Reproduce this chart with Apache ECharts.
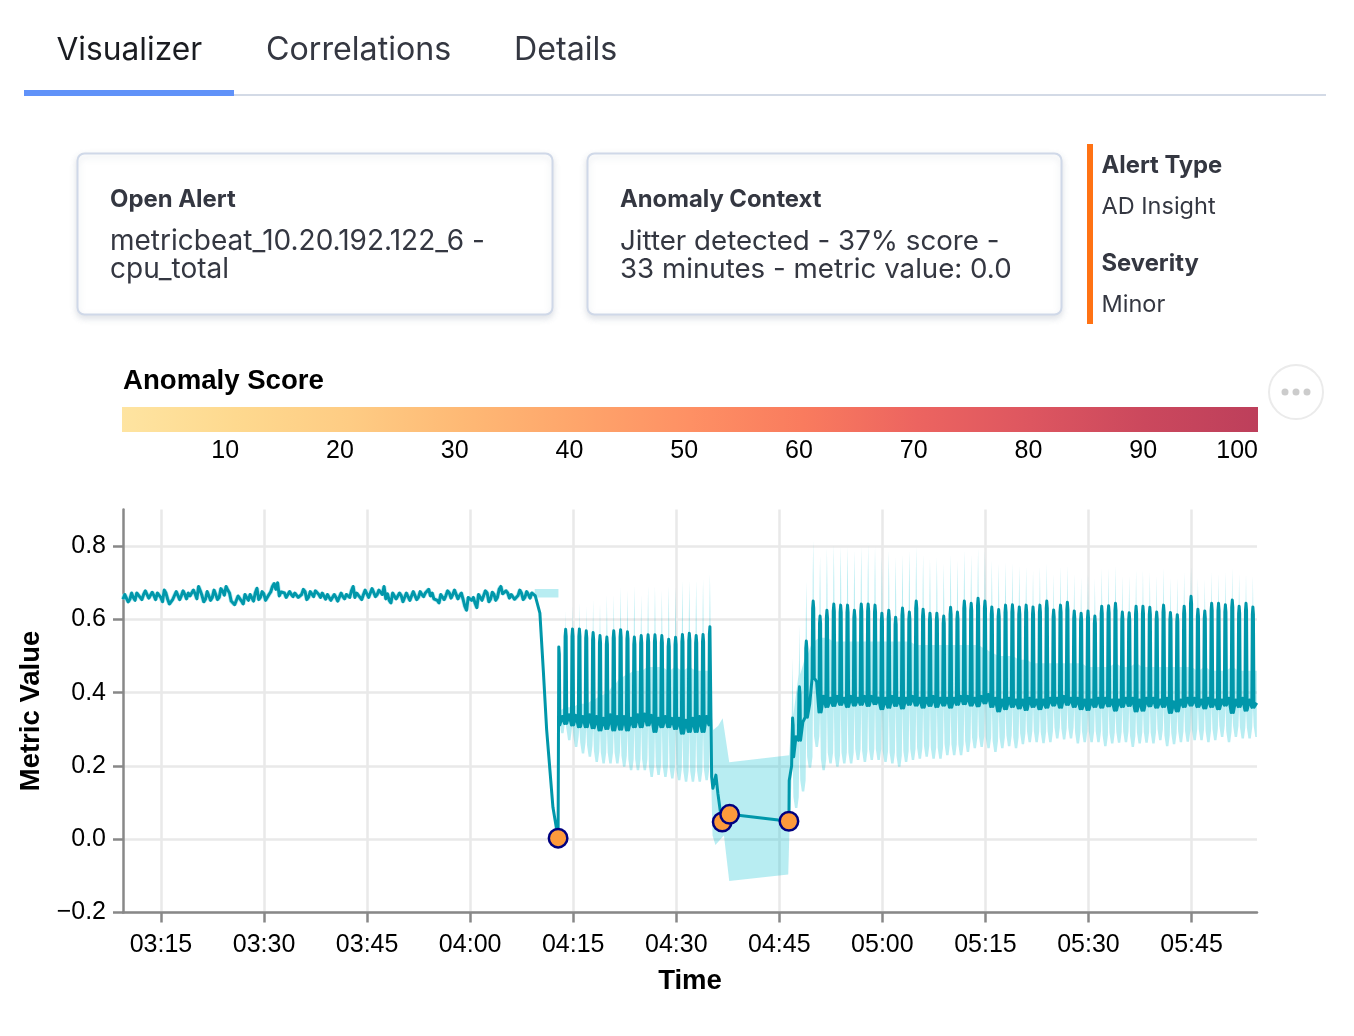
<!DOCTYPE html>
<html><head><meta charset="utf-8">
<style>html,body{margin:0;padding:0;background:#fff}#c{width:1354px;height:1036px}</style>
<script src="https://cdn.jsdelivr.net/npm/echarts@6/dist/echarts.min.js"></script>
</head><body><div id="c"></div>
<script>
// ---- Data (times are minutes since midnight) ----
const xTicks = [195,210,225,240,255,270,285,300,315,330,345];
const yTicks = [-0.2,0,0.2,0.4,0.6,0.8];
const scoreTicks = [10,20,30,40,50,60,70,80,90,100];
const scoreColors = ['#fee4a1','#fed98f','#fecc84','#feb975','#fea56b','#fe9064','#f97b5e','#ec6460','#dd5660','#cb485d','#bd3f5b'];

const flatStart = 189.47;
const flatValues = [
.655,.665,.655,.66,.672,.66,.668,.675,.655,.665,
.672,.66,.68,.655,.645,.66,.672,.665,.668,.672,
.665,.67,.69,.665,.655,.672,.66,.668,.66,.678,
.69,.672,.655,.645,.66,.642,.66,.668,.65,.685,
.66,.67,.648,.675,.698,.70,.675,.672,.665,.668,
.672,.66,.668,.676,.66,.672,.678,.668,.672,.655,
.665,.648,.66,.655,.662,.668,.66,.69,.672,.66,
.668,.685,.672,.68,.668,.675,.69,.67,.645,.668,
.66,.665,.65,.668,.655,.672,.66,.668,.672,.682,
.672,.66,.645,.668,.665,.672,.668,.675,.665,.655,
.625,.665,.66,.632,.668,.665,.672,.655,.668,.66,
.69,.665,.672,.668,.655,.665,.672,.66,.668,.672,.665];
const flatBetween = [
.668,.648,.672,.652,.676,.654,.678,.658,.674,.654,
.676,.648,.672,.642,.655,.676,.654,.678,.656,.664,
.68,.656,.678,.648,.676,.652,.68,.654,.684,.666,
.68,.65,.64,.664,.65,.668,.652,.664,.672,.654,
.676,.652,.668,.69,.682,.664,.68,.66,.676,.662,
.674,.656,.682,.654,.676,.662,.68,.66,.676,.668,
.652,.668,.65,.672,.656,.672,.678,.66,.676,.654,
.68,.66,.684,.662,.68,.668,.656,.652,.672,.656,
.672,.648,.672,.652,.676,.654,.676,.662,.674,.664,
.656,.652,.668,.654,.678,.658,.68,.656,.672,.636,
.66,.652,.644,.668,.652,.678,.648,.674,.652,.682,
.67,.678,.658,.672,.652,.68,.654,.676,.658,.674];
const dropTimes = [249.55,250.15,250.65,251.13,252.05,252.8];
const dropValues = [.66,.617,.46,.30,.087,.003];
const flatBandTimes = [249.4,252.85];
const flatBandTop = .683, flatBandLow = .66;

const start1 = 252.9;
const peaks1 = [.525,.573,.574,.574,.569,.564,.556,.552,.569,.572,.566,.552,.556,.558,.558,.556,.546,.551,.559,.562,.556,.559,.58];
const dips1 = [.312,.316,.312,.307,.307,.304,.298,.302,.298,.30,.298,.307,.307,.312,.294,.307,.307,.302,.289,.294,.294,.294,.312];
const mids1 = [.335,.34,.338,.335,.34,.335,.33,.34,.335,.335,.33,.34,.342,.338,.33,.335,.33,.33,.325,.33,.335,.335,.335];
const tops1 = [.50,.625,.637,.646,.637,.655,.646,.668,.668,.689,.68,.693,.668,.693,.693,.68,.693,.689,.707,.707,.707,.711,.726];
const uppers1 = [.35,.36,.36,.37,.37,.38,.39,.40,.42,.44,.45,.46,.46,.47,.47,.47,.46,.47,.46,.47,.46,.46,.46];
const lows1 = [.289,.27,.252,.234,.225,.211,.207,.207,.207,.198,.188,.188,.188,.17,.175,.17,.166,.161,.157,.157,.157,.161,.16];

const gapTimes = [275.15,275.33,275.77,276.06,276.46,276.69,277.77,286.4,286.44,286.79];
const gapValues = [.17,.139,.175,.125,.07,.047,.068,.049,.16,.2];
const gapUpperTimes = [275.05,275.38,276.11,276.75,277.71,286.44];
const gapUpperValues = [.36,.298,.31,.33,.21,.229];
const gapLowerTimes = [275.28,275.7,276.94,277.71,286.3,286.5];
const gapLowerValues = [.01,-.016,.01,-.114,-.096,.04];

const start2 = 286.93;
const peaks2 = [.331,.416,.541,.650,.609,.625,.642,.639,.639,.625,.642,.642,.639,.617,.625,.606,.631,.620,.650,.628,.617,.617,
.609,.633,.620,.650,.644,.658,.650,.634,.627,.639,.640,.634,.639,.634,.639,.650,.626,.639,.647,.623,.617,.623,.609,
.636,.637,.644,.620,.618,.636,.636,.633,.620,.639,.619,.613,.636,.663,.628,.623,.644,.644,.640,.653,.636,.644,.634];
const dips2 = [.225,.27,.333,.44,.347,.362,.365,.368,.362,.366,.368,.365,.37,.356,.36,.365,.358,.368,.366,.36,.365,.362,
.366,.36,.368,.37,.366,.364,.372,.362,.35,.356,.362,.358,.354,.362,.356,.36,.366,.36,.368,.362,.356,.354,.362,
.36,.364,.352,.362,.365,.35,.352,.364,.36,.362,.346,.35,.362,.366,.362,.358,.362,.356,.366,.346,.362,.352,.36];
const mids2 = [.28,.32,.37,.43,.39,.385,.39,.385,.39,.385,.39,.39,.385,.385,.39,.385,.385,.39,.385,.385,.39,.385,
.385,.385,.39,.39,.385,.39,.395,.385,.38,.385,.38,.38,.385,.38,.38,.385,.385,.39,.385,.385,.38,.38,.385,
.385,.38,.38,.385,.385,.38,.385,.385,.38,.385,.375,.38,.385,.385,.38,.385,.38,.38,.385,.38,.385,.38,.37];
const tops2 = [.497,.584,.705,.816,.775,.795,.805,.80,.80,.789,.80,.805,.80,.771,.789,.771,.778,.789,.80,.778,.767,.771,
.754,.778,.762,.789,.778,.795,.789,.762,.754,.757,.754,.748,.745,.735,.745,.754,.726,.745,.748,.726,.716,.726,.713,
.74,.74,.748,.72,.72,.735,.735,.73,.72,.74,.715,.715,.73,.745,.715,.71,.73,.725,.73,.74,.725,.725,.72];
const uppers2 = [.34,.45,.50,.54,.55,.55,.54,.54,.54,.54,.54,.54,.54,.54,.54,.54,.54,.54,.53,.53,.53,.53,
.53,.53,.53,.53,.53,.53,.52,.51,.50,.50,.50,.49,.49,.48,.48,.48,.48,.48,.48,.48,.48,.47,.47,
.47,.47,.48,.47,.47,.48,.47,.47,.47,.47,.47,.47,.47,.47,.46,.47,.46,.46,.46,.47,.46,.46,.46];
const lows2 = [.085,.13,.195,.252,.188,.207,.198,.207,.207,.216,.211,.216,.216,.211,.207,.198,.211,.216,.220,.225,.220,.220,
.229,.229,.229,.238,.248,.252,.248,.238,.248,.254,.248,.259,.265,.265,.262,.265,.275,.272,.275,.261,.265,.265,.265,
.254,.261,.263,.265,.252,.261,.263,.261,.270,.254,.259,.265,.266,.270,.270,.265,.270,.279,.265,.279,.275,.275,.279];
const endTime = 354.5, endValue = .372;

const anomalyTimes = [252.8,276.69,277.77,286.4];
const anomalyValues = [.003,.047,.068,.049];

const tabs = ['Visualizer','Correlations','Details'];
const cardHeads = ['Open Alert','Anomaly Context'];
const cardLines = [['metricbeat_10.20.192.122_6 -','cpu_total'],['Jitter detected - 37% score -','33 minutes - metric value: 0.0']];
const sideLabels = ['Alert Type','AD Insight','Severity','Minor'];

// ---- Assemble the paths from the arrays above ----
const P = (m, v) => [m, v];
const flatLine = [];
flatValues.forEach((v, i) => {
  flatLine.push(P(flatStart + i * 0.5, v));
  if (i < flatBetween.length) flatLine.push(P(flatStart + i * 0.5 + 0.25, flatBetween[i]));
});
const line = flatLine.slice();
dropTimes.forEach((t, i) => line.push(P(t, dropValues[i])));
function addCycles(s, peaks, dips, mids, lastPost) {
  peaks.forEach((p, i) => {
    const t = s + i;
    if (i > 0) { line.push(P(t - 0.16, dips[i])); line.push(P(t - 0.08, p - 0.02)); }
    line.push(P(t, p));
    if (i < peaks.length - 1 || lastPost) {
      line.push(P(t + 0.08, p - 0.02));
      line.push(P(t + 0.16, dips[i]));
      line.push(P(t + 0.5, mids[i]));
    }
  });
}
addCycles(start1, peaks1, dips1, mids1, false);
gapTimes.forEach((t, i) => line.push(P(t, gapValues[i])));
addCycles(start2, peaks2, dips2, mids2, true);
line.push(P(endTime, endValue));

function bandCycles(s, tops, uppers, lows, dips, up, lo, lastPost) {
  tops.forEach((top, i) => {
    const t = s + i;
    up.push([t - 0.12, uppers[i]], [t - 0.07, top - 0.1], [t, top], [t + 0.07, top - 0.1], [t + 0.12, uppers[i]]);
    lo.push([t, dips[i]]);
    if (i < tops.length - 1 || lastPost) {
      lo.push([t + 0.12, lows[i] + 0.03], [t + 0.35, lows[i]], [t + 0.7, lows[i]], [t + 0.9, lows[i] + 0.03]);
    }
  });
}
const up = [], lo = [];
bandCycles(start1, tops1, uppers1, lows1, dips1, up, lo, false);
gapUpperTimes.forEach((t, i) => up.push([t, gapUpperValues[i]]));
gapLowerTimes.forEach((t, i) => lo.push([t, gapLowerValues[i]]));
bandCycles(start2, tops2, uppers2, lows2, dips2, up, lo, true);
up.push([endTime, uppers2[uppers2.length - 1]]);
lo.push([endTime, lows2[lows2.length - 1]]);
const bandPolys = [
  [[flatBandTimes[0], flatBandTop], [flatBandTimes[1], flatBandTop], [flatBandTimes[1], flatBandLow], [flatBandTimes[0], flatBandLow]],
  up.concat(lo.slice().reverse())
];

// ---- Page furniture ----
const INTER = 'Inter, "Noto Sans", sans-serif', HELV = '"Liberation Sans", Arial, sans-serif';
const txt = (s, x, y, font, fill) => ({type:'text', silent:true, z:5, style:{text:s, x, y, font, fill, textVerticalAlign:'middle'}});
const box = (x, y, w, h, r, fill, stroke, lw, extra) => ({type:'rect', silent:true, z:1, shape:{x, y, width:w, height:h, r}, style:Object.assign({fill, stroke, lineWidth:lw}, extra || {})});
const graphics = [
  box(24,94,1302,2,0,'#d3dae6'),
  box(24,90,210,6,0,'#6092f9'),
  txt(tabs[0],56.5,50,'400 31.7px '+INTER,'#1a1c21'),
  txt(tabs[1],266,50,'400 32.2px '+INTER,'#343741'),
  txt(tabs[2],514,50,'400 32.2px '+INTER,'#343741'),
  box(77.5,153.5,475,161,7,'#fff','#cfd8e8',2,{shadowBlur:6,shadowOffsetY:3,shadowColor:'rgba(152,162,179,.3)'}),
  box(587.5,153.5,474,161,7,'#fff','#cfd8e8',2,{shadowBlur:6,shadowOffsetY:3,shadowColor:'rgba(152,162,179,.3)'}),
  txt(cardHeads[0],110,200,'700 23.9px '+INTER,'#343741'),
  txt(cardLines[0][0],110,242,'400 28px '+INTER,'#343741'),
  txt(cardLines[0][1],110,270,'400 28px '+INTER,'#343741'),
  txt(cardHeads[1],620,200,'700 23.8px '+INTER,'#343741'),
  txt(cardLines[1][0],620,242,'400 27.7px '+INTER,'#343741'),
  txt(cardLines[1][1],620,270,'400 27.7px '+INTER,'#343741'),
  box(1087,144,6,180,0,'#ff7214'),
  txt(sideLabels[0],1101.5,166,'700 23.8px '+INTER,'#343741'),
  txt(sideLabels[1],1101.5,207,'400 23.5px '+INTER,'#343741'),
  txt(sideLabels[2],1101.5,264,'700 23.8px '+INTER,'#343741'),
  txt(sideLabels[3],1101.5,305,'400 23.5px '+INTER,'#343741'),
  txt('Anomaly Score',123,381,'700 27.6px '+HELV,'#000'),
  {type:'circle',silent:true,z:1,shape:{cx:1296,cy:392,r:27},style:{fill:'#fff',stroke:'#ebebeb',lineWidth:2}},
  {type:'circle',silent:true,z:2,shape:{cx:1285,cy:392,r:3.5},style:{fill:'#ccc'}},
  {type:'circle',silent:true,z:2,shape:{cx:1296,cy:392,r:3.5},style:{fill:'#ccc'}},
  {type:'circle',silent:true,z:2,shape:{cx:1307,cy:392,r:3.5},style:{fill:'#ccc'}}
];

const hhmm = m => String(Math.floor(m / 60)).padStart(2,'0') + ':' + String(Math.round(m % 60)).padStart(2,'0');
const chart = echarts.init(document.getElementById('c'), null, {renderer:'canvas'});
chart.setOption({
  animation:false, backgroundColor:'#fff',
  graphic:graphics,
  grid:[
    {left:123, top:509.5, width:1134, height:403},
    {left:122, top:407, width:1136, height:25}
  ],
  xAxis:[
    {type:'value', gridIndex:0, min:189.47, max:354.53,
     name:'Time', nameLocation:'middle', nameGap:55, nameTextStyle:{fontWeight:700, fontSize:27.5, fontFamily:HELV, color:'#000'},
     axisLine:{onZero:false, lineStyle:{color:'#888',width:2.5}},
     axisTick:{length:10, lineStyle:{color:'#888',width:2.5}, customValues:xTicks},
     axisLabel:{customValues:xTicks, formatter:hhmm, fontFamily:HELV, fontSize:25, color:'#000', margin:20},
     splitLine:{show:true, lineStyle:{color:'#e9e9e9',width:2.5}}},
    {type:'value', gridIndex:1, min:1, max:100,
     axisLine:{show:false}, axisTick:{show:false}, splitLine:{show:false},
     axisLabel:{customValues:scoreTicks, fontFamily:HELV, fontSize:25, color:'#000', margin:7, alignMaxLabel:'right'}}
  ],
  yAxis:[
    {type:'value', gridIndex:0, min:-0.2, max:0.9,
     name:'Metric Value', nameLocation:'middle', nameGap:74, nameRotate:90, nameTextStyle:{fontWeight:700, fontSize:27.5, fontFamily:HELV, color:'#000'},
     axisLine:{show:true, onZero:false, lineStyle:{color:'#888',width:2.5}},
     axisTick:{show:true, length:10, lineStyle:{color:'#888',width:2.5}, customValues:yTicks},
     axisLabel:{customValues:yTicks, formatter:v => (v < 0 ? '\u2212' : '') + Math.abs(v).toFixed(1), fontFamily:HELV, fontSize:25, color:'#000', margin:17},
     splitLine:{show:true, lineStyle:{color:'#e9e9e9',width:2.5}}},
    {type:'value', gridIndex:1, min:0, max:1, show:false}
  ],
  series:[
    {type:'line', xAxisIndex:1, yAxisIndex:1, data:[[1,1],[100,1]], symbol:'none', silent:true, lineStyle:{width:0},
     areaStyle:{opacity:1, color:new echarts.graphic.LinearGradient(0,0,1,0, scoreColors.map((c,i)=>({offset:i/(scoreColors.length-1), color:c})))}},
    {type:'custom', xAxisIndex:0, yAxisIndex:0, silent:true, z:2, clip:true,
     data:bandPolys.map((p,i)=>[p[0][0], p[0][1], i]),
     encode:{x:0,y:1},
     renderItem:(params, api) => ({
       type:'polygon', silent:true,
       shape:{points:bandPolys[api.value(2)].map(p => api.coord(p))},
       style:{fill:'rgba(0,190,210,0.28)'}
     })},
    {type:'line', xAxisIndex:0, yAxisIndex:0, z:3, silent:true, symbol:'none',
     data:flatLine, lineStyle:{color:'#b8ebf1', width:4.5}},
    {type:'line', xAxisIndex:0, yAxisIndex:0, z:4, silent:true, symbol:'none', data:line,
     lineStyle:{color:'#0097aa', width:3, join:'round'}},
    {type:'scatter', xAxisIndex:0, yAxisIndex:0, z:5, silent:true, symbol:'circle', symbolSize:18.5,
     data:anomalyTimes.map((t,i)=>P(t, anomalyValues[i])),
     itemStyle:{color:'#fd9a3c', borderColor:'#00007f', borderWidth:2.5, opacity:1}}
  ]
});
</script></body></html>
